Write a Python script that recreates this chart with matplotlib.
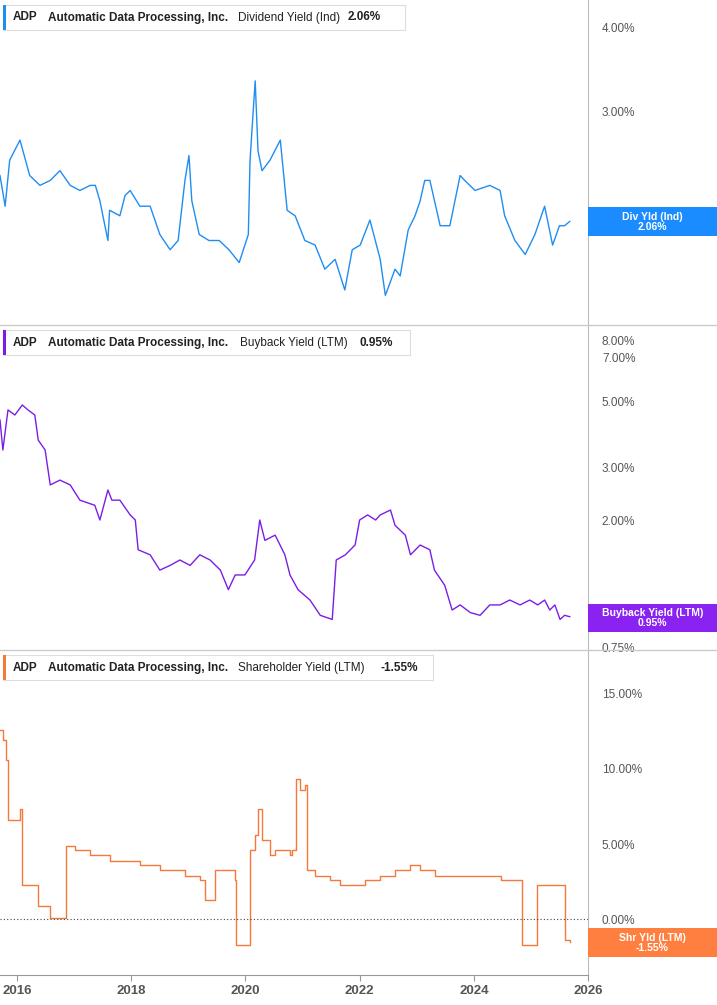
import matplotlib.pyplot as plt
from matplotlib.patches import Rectangle
import matplotlib.ticker as mticker

plt.rcParams['font.family'] = 'Liberation Sans'

# dates as decimal years
div_dates = [2015.70, 2015.79, 2015.87, 2016.05, 2016.22, 2016.40, 2016.58, 2016.75, 2016.93, 2017.10,
             2017.28, 2017.37, 2017.45, 2017.59, 2017.62, 2017.80, 2017.89, 2017.98, 2018.15, 2018.33,
             2018.50, 2018.68, 2018.82, 2018.94, 2019.01, 2019.06, 2019.19, 2019.36, 2019.54, 2019.71,
             2019.89, 2020.05, 2020.08, 2020.17, 2020.22, 2020.29, 2020.43, 2020.61, 2020.73, 2020.87,
             2021.04, 2021.22, 2021.39, 2021.57, 2021.74, 2021.87, 2022.01, 2022.18, 2022.36, 2022.45,
             2022.62, 2022.71, 2022.85, 2022.97, 2023.06, 2023.14, 2023.23, 2023.41, 2023.58, 2023.76,
             2023.84, 2024.02, 2024.28, 2024.46, 2024.54, 2024.72, 2024.90, 2024.98, 2025.07, 2025.24,
             2025.38, 2025.50, 2025.59, 2025.68]
div_vals = [2.41, 2.17, 2.54, 2.72, 2.41, 2.33, 2.37, 2.45, 2.33, 2.29,
            2.33, 2.33, 2.21, 1.93, 2.14, 2.10, 2.25, 2.29, 2.17, 2.17,
            1.97, 1.87, 1.93, 2.37, 2.58, 2.21, 1.97, 1.93, 1.93, 1.87,
            1.79, 1.97, 2.54, 3.33, 2.62, 2.45, 2.54, 2.72, 2.14, 2.10,
            1.93, 1.90, 1.75, 1.81, 1.63, 1.87, 1.90, 2.07, 1.81, 1.60,
            1.75, 1.71, 2.00, 2.10, 2.21, 2.37, 2.37, 2.03, 2.03, 2.41,
            2.37, 2.29, 2.33, 2.29, 2.10, 1.93, 1.84, 1.90, 1.97, 2.17,
            1.90, 2.03, 2.03, 2.06]

bb_dates = [2015.70, 2015.75, 2015.84, 2015.96, 2016.09, 2016.19, 2016.31, 2016.37, 2016.49, 2016.58,
            2016.75, 2016.93, 2017.10, 2017.36, 2017.45, 2017.59, 2017.66, 2017.80, 2017.98, 2018.07,
            2018.12, 2018.33, 2018.50, 2018.68, 2018.85, 2019.03, 2019.20, 2019.38, 2019.56, 2019.70,
            2019.82, 2019.99, 2020.16, 2020.25, 2020.34, 2020.52, 2020.69, 2020.78, 2020.92, 2021.13,
            2021.31, 2021.52, 2021.59, 2021.75, 2021.92, 2022.00, 2022.14, 2022.28, 2022.36, 2022.54,
            2022.62, 2022.80, 2022.89, 2023.06, 2023.23, 2023.31, 2023.49, 2023.62, 2023.76, 2023.94,
            2024.11, 2024.28, 2024.46, 2024.63, 2024.81, 2024.98, 2025.12, 2025.24, 2025.33, 2025.42,
            2025.51, 2025.59, 2025.68]
bb_vals = [4.32, 3.43, 4.67, 4.49, 4.85, 4.67, 4.49, 3.70, 3.43, 2.62,
           2.72, 2.62, 2.33, 2.24, 2.00, 2.52, 2.33, 2.33, 2.08, 2.00,
           1.59, 1.53, 1.36, 1.41, 1.47, 1.41, 1.53, 1.47, 1.36, 1.17,
           1.31, 1.31, 1.47, 2.00, 1.71, 1.78, 1.53, 1.31, 1.17, 1.08,
           0.96, 0.93, 1.47, 1.53, 1.65, 2.00, 2.08, 2.00, 2.08, 2.16,
           1.92, 1.78, 1.53, 1.65, 1.59, 1.36, 1.21, 1.00, 1.04, 0.98,
           0.96, 1.04, 1.04, 1.08, 1.04, 1.08, 1.04, 1.08, 1.00, 1.04,
           0.93, 0.96, 0.95]

sh_dates = [2015.70, 2015.75, 2015.81, 2015.84, 2015.96, 2016.05, 2016.09, 2016.31, 2016.37, 2016.54,
            2016.58, 2016.84, 2016.86, 2017.02, 2017.28, 2017.54, 2017.63, 2017.80, 2018.15, 2018.50,
            2018.94, 2019.12, 2019.20, 2019.29, 2019.47, 2019.55, 2019.82, 2019.84, 2020.06, 2020.08,
            2020.17, 2020.22, 2020.29, 2020.43, 2020.52, 2020.78, 2020.81, 2020.88, 2020.95, 2021.04,
            2021.08, 2021.22, 2021.48, 2021.66, 2021.92, 2022.10, 2022.36, 2022.62, 2022.88, 2023.06,
            2023.32, 2023.50, 2023.77, 2024.12, 2024.47, 2024.82, 2024.85, 2024.87, 2025.07, 2025.10,
            2025.51, 2025.60, 2025.68]
sh_vals = [12.6, 11.9, 10.6, 6.6, 6.6, 7.3, 2.3, 2.3, 0.9, 0.9,
           0.1, 0.1, 4.9, 4.6, 4.3, 4.3, 3.9, 3.9, 3.6, 3.3,
           2.9, 2.9, 2.6, 1.3, 3.3, 3.3, 2.6, -1.7, -1.7, 4.6,
           5.6, 7.3, 5.3, 4.3, 4.6, 4.3, 4.6, 9.3, 8.6, 8.9,
           3.3, 2.9, 2.6, 2.3, 2.3, 2.6, 2.9, 3.3, 3.6, 3.3,
           2.9, 2.9, 2.9, 2.9, 2.6, 2.6, -1.7, -1.7, -1.7, 2.3,
           2.3, -1.4, -1.55]

years = [2016, 2018, 2020, 2022, 2024, 2026]

BLUE, PURPLE, ORANGE = '#1f8ef1', '#7a1ee6', '#f47a3c'
TAG_BLUE, TAG_PURPLE, TAG_ORANGE = '#1a8cff', '#8a22f2', '#ff7f40'
GRAY = '#555555'

W, H = 717, 1005
fig = plt.figure(figsize=(W / 100, H / 100), dpi=100)
XL = (2015.70, 2026.0)


def mk_ax(top, bottom):
    ax = fig.add_axes([0, 1 - bottom / H, 588 / W, (bottom - top) / H])
    ax.set_xlim(*XL)
    for s in ['left', 'top', 'bottom']:
        ax.spines[s].set_visible(False)
    ax.spines['right'].set_color('#bbbbbb')
    ax.yaxis.tick_right()
    ax.tick_params(axis='y', length=0, labelsize=8.5, labelcolor=GRAY, pad=10)
    ax.set_xticks([])
    return ax


pct = mticker.FuncFormatter(lambda v, p: f'{v:.2f}%')

ax1 = mk_ax(0, 325)
ax1.plot(div_dates, div_vals, color=BLUE, lw=1)
ax1.set_yscale('log')
ax1.set_ylim(1.446, 4.39)
ax1.yaxis.set_major_locator(mticker.FixedLocator([2, 3, 4]))
ax1.yaxis.set_minor_locator(mticker.NullLocator())
ax1.yaxis.set_major_formatter(pct)

ax2 = mk_ax(325, 650)
ax2.plot(bb_dates, bb_vals, color=PURPLE, lw=1)
ax2.set_yscale('log')
ax2.set_ylim(0.735, 8.98)
ax2.yaxis.set_major_locator(mticker.FixedLocator([0.75, 2, 3, 5, 7, 8]))
ax2.yaxis.set_minor_locator(mticker.NullLocator())
ax2.yaxis.set_major_formatter(pct)

ax3 = mk_ax(650, 975)
ax3.plot(sh_dates, sh_vals, color=ORANGE, lw=1, drawstyle='steps-post')
ax3.set_ylim(-3.73, 17.93)
ax3.set_yticks([0, 5, 10, 15])
ax3.yaxis.set_major_formatter(pct)
ax3.axhline(0, color='#444444', lw=0.8, ls=(0, (1, 2)))
ax3.spines['bottom'].set_visible(True)
ax3.spines['bottom'].set_color('#999999')
ax3.set_xticks(years)
ax3.tick_params(axis='x', length=4, color='#999999', labelsize=9.5, labelcolor=GRAY)
for lb in ax3.get_xticklabels():
    lb.set_fontweight('bold')

# panel separators
for y in (325, 650):
    fig.add_artist(plt.Line2D([0, 1], [1 - y / H] * 2, color='#cccccc', lw=1))

# header boxes
headers = [
    (5, 30, 405, BLUE, 'Dividend Yield (Ind)', 238, '2.06%', 348),
    (330, 355, 410, PURPLE, 'Buyback Yield (LTM)', 240, '0.95%', 360),
    (655, 680, 433, ORANGE, 'Shareholder Yield (LTM)', 238, '-1.55%', 380),
]
for top, bot, right, col, name, nx, val, vx in headers:
    fig.add_artist(Rectangle((3 / W, 1 - bot / H), (right - 3) / W, (bot - top) / H,
                             transform=fig.transFigure, facecolor='white', edgecolor='#dddddd', lw=0.8))
    fig.add_artist(Rectangle((3 / W, 1 - bot / H), 3 / W, (bot - top) / H,
                             transform=fig.transFigure, facecolor=col, edgecolor='none'))
    yc = 1 - (top + bot) / 2 / H
    fig.text(13 / W, yc, 'ADP', fontsize=8.5, fontweight='bold', va='center', color='#222222')
    fig.text(48 / W, yc, 'Automatic Data Processing, Inc.', fontsize=8.5, fontweight='bold',
             va='center', color='#222222')
    fig.text(nx / W, yc, name, fontsize=8.5, va='center', color='#222222')
    fig.text(vx / W, yc, val, fontsize=8.5, fontweight='bold', va='center', color='#222222')

# right-side value tags
tags = [(207, 236, TAG_BLUE, 'Div Yld (Ind)\n2.06%'),
        (604, 632, TAG_PURPLE, 'Buyback Yield (LTM)\n0.95%'),
        (928, 957, TAG_ORANGE, 'Shr Yld (LTM)\n-1.55%')]
for top, bot, col, txt in tags:
    fig.add_artist(Rectangle((588 / W, 1 - bot / H), (W - 588) / W, (bot - top) / H,
                             transform=fig.transFigure, facecolor=col, edgecolor='none'))
    fig.text((588 + W) / 2 / W, 1 - (top + bot) / 2 / H, txt, fontsize=7.5, fontweight='bold',
             color='white', ha='center', va='center', linespacing=1.0)

plt.savefig('out.png', dpi=100)
